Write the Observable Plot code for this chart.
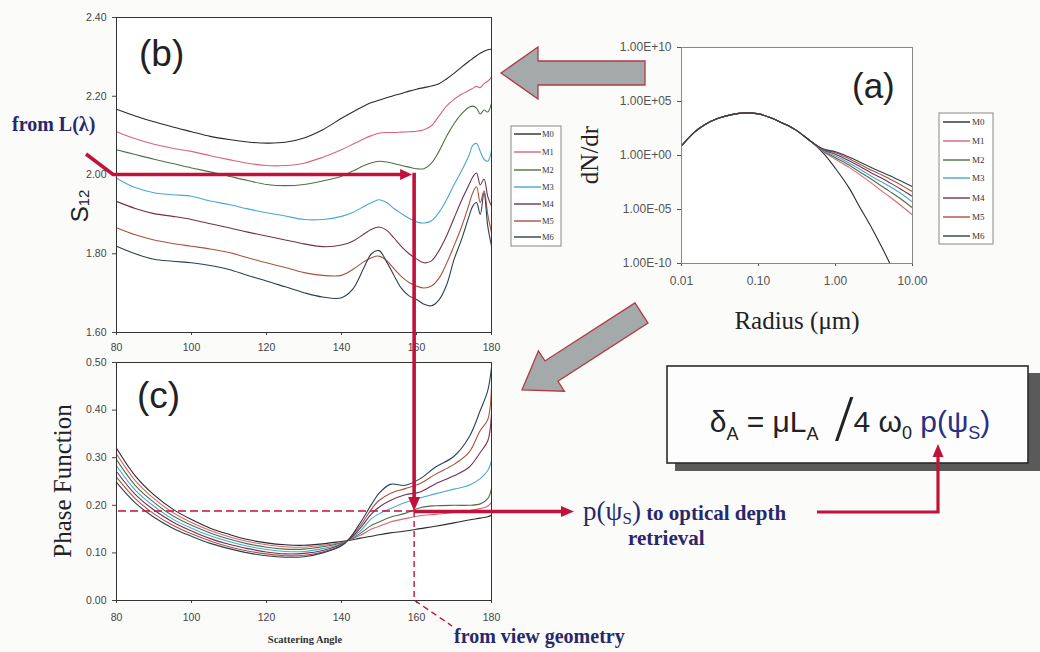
<!DOCTYPE html>
<html><head><meta charset="utf-8">
<script src="https://cdn.jsdelivr.net/npm/d3@7"></script>
<script src="https://cdn.jsdelivr.net/npm/@observablehq/plot@0.6"></script>
<style>
html,body{margin:0;padding:0;background:#fbfbfa;}
#wrap{position:relative;width:1040px;height:652px;overflow:hidden;background:#fbfbfa;}
</style></head><body><div id="wrap"></div>
<script>
// ---------- series ----------
const seriesNames = ["M0","M1","M2","M3","M4","M5","M6"];
const seriesColors = ["#2a2a2a","#d8647c","#4f7242","#4aa6d6","#74304e","#a8543e","#2c3f52"];

// ---------- panel (b): S12 vs scattering angle ----------
const angleB = [80,85,90,95,100,105,110,115,120,125,130,135,140,143,146,148,150,152,154,156,158,160,162,164,166,168,170,172,174,175,176,177,178,179,180];
const s12M0 = [2.167,2.150,2.135,2.122,2.110,2.098,2.090,2.084,2.081,2.083,2.094,2.115,2.144,2.160,2.175,2.184,2.190,2.196,2.202,2.207,2.213,2.218,2.222,2.226,2.232,2.244,2.258,2.274,2.289,2.296,2.303,2.309,2.314,2.318,2.320];
const s12M1 = [2.110,2.092,2.078,2.068,2.060,2.049,2.039,2.030,2.024,2.024,2.030,2.045,2.064,2.078,2.092,2.100,2.106,2.108,2.108,2.109,2.110,2.111,2.115,2.125,2.150,2.175,2.192,2.205,2.215,2.220,2.225,2.222,2.232,2.238,2.248];
const s12M2 = [2.064,2.052,2.040,2.029,2.018,2.008,1.997,1.986,1.976,1.973,1.976,1.985,1.997,2.010,2.024,2.031,2.035,2.033,2.029,2.024,2.020,2.016,2.016,2.030,2.060,2.098,2.130,2.155,2.172,2.175,2.170,2.155,2.165,2.160,2.182];
const s12M3 = [1.992,1.968,1.955,1.950,1.946,1.934,1.925,1.914,1.904,1.896,1.887,1.887,1.895,1.905,1.920,1.930,1.937,1.930,1.915,1.902,1.890,1.881,1.878,1.884,1.905,1.937,1.975,2.010,2.050,2.075,2.080,2.060,2.040,2.035,2.062];
const s12M4 = [1.933,1.915,1.902,1.895,1.887,1.876,1.866,1.855,1.845,1.835,1.825,1.818,1.822,1.832,1.850,1.862,1.868,1.860,1.840,1.818,1.800,1.787,1.777,1.782,1.808,1.845,1.890,1.935,1.975,1.995,2.005,1.975,1.990,1.945,1.921];
const s12M5 = [1.866,1.848,1.835,1.826,1.819,1.812,1.803,1.790,1.777,1.765,1.752,1.745,1.745,1.760,1.780,1.790,1.794,1.783,1.762,1.742,1.727,1.718,1.713,1.718,1.738,1.775,1.820,1.868,1.925,1.955,1.970,1.930,1.960,1.900,1.853];
const s12M6 = [1.819,1.800,1.786,1.781,1.777,1.770,1.760,1.745,1.731,1.716,1.701,1.690,1.688,1.710,1.765,1.800,1.808,1.780,1.745,1.712,1.693,1.684,1.672,1.668,1.683,1.720,1.785,1.836,1.895,1.921,1.930,1.900,1.955,1.870,1.820];
const s12All = [s12M0,s12M1,s12M2,s12M3,s12M4,s12M5,s12M6];

// ---------- panel (c): phase function vs scattering angle ----------
const angleC = [80,85,90,95,100,105,110,115,120,125,130,135,140,142,145,148,150,153,157,161,165,170,174,177,179,180];
const pfM0 = [.320,.262,.222,.192,.170,.152,.139,.128,.121,.117,.116,.119,.124,.126,.131,.135,.138,.142,.146,.151,.156,.163,.169,.173,.176,.179];
const pfM1 = [.308,.252,.214,.185,.164,.147,.134,.124,.117,.113,.112,.116,.122,.127,.137,.150,.156,.165,.172,.178,.181,.185,.189,.193,.198,.206];
const pfM2 = [.296,.242,.206,.178,.158,.142,.129,.119,.112,.108,.108,.113,.121,.127,.141,.158,.165,.175,.183,.195,.199,.200,.200,.203,.214,.235];
const pfM3 = [.283,.232,.198,.171,.152,.136,.124,.114,.107,.103,.103,.109,.119,.128,.146,.172,.182,.193,.206,.216,.224,.234,.242,.256,.273,.294];
const pfM4 = [.271,.223,.190,.165,.146,.130,.118,.109,.102,.098,.099,.105,.118,.128,.152,.182,.196,.210,.222,.228,.245,.262,.280,.311,.335,.393];
const pfM5 = [.259,.214,.182,.158,.140,.125,.113,.104,.098,.094,.095,.102,.116,.129,.157,.192,.210,.225,.235,.246,.265,.286,.311,.357,.380,.448];
const pfM6 = [.248,.205,.175,.152,.135,.120,.109,.100,.094,.091,.092,.100,.115,.129,.163,.202,.225,.244,.242,.256,.280,.303,.343,.399,.441,.490];
const pfAll = [pfM0,pfM1,pfM2,pfM3,pfM4,pfM5,pfM6];

// ---------- panel (a): size distribution dN/dr vs radius ----------
const radiusHead = [0.01,0.015,0.02,0.03,0.05,0.07,0.1,0.15,0.2,0.3];
const dnHead = [7.9,1.6e2,7.1e2,2.8e3,7.1e3,8.9e3,7.1e3,2.8e3,1.1e3,2.5e2];
const radiusTailM0 = [0.5,0.7,1,1.5,2,3,4,5,5.5];
const dnTailM0 = [1.6e1,1.6e0,6.3e-2,1.0e-3,2.5e-5,1.6e-7,3.2e-9,1.3e-10,3.0e-11];
const radiusTail = [0.5,0.7,1,1.5,2,3,4,5,7,10];
const dnTailM1 = [1.6e1,2.2e0,4.5e-1,7.9e-2,2.0e-2,2.5e-3,5.0e-4,1.6e-4,2.5e-5,3.2e-6];
const dnTailM2 = [1.6e1,2.5e0,6.3e-1,1.3e-1,3.5e-2,5.6e-3,1.4e-3,5.0e-4,1.0e-4,1.4e-5];
const dnTailM3 = [1.6e1,2.8e0,8.9e-1,2.0e-1,6.3e-2,1.1e-2,3.5e-3,1.4e-3,3.2e-4,5.0e-5];
const dnTailM4 = [1.6e1,3.2e0,1.3e0,3.2e-1,1.1e-1,2.2e-2,7.9e-3,3.2e-3,7.9e-4,1.6e-4];
const dnTailM5 = [1.6e1,3.5e0,1.8e0,5.0e-1,1.8e-1,4.0e-2,1.6e-2,7.1e-3,2.0e-3,4.5e-4];
const dnTailM6 = [1.6e1,4.0e0,2.2e0,7.1e-1,2.8e-1,7.1e-2,2.8e-2,1.4e-2,4.5e-3,1.3e-3];
const dnTails = [dnTailM1,dnTailM2,dnTailM3,dnTailM4,dnTailM5,dnTailM6];

// ---------- ticks ----------
const angleTicks = [80,100,120,140,160,180];
const angleTickLabels = ["80","100","120","140","160","180"];
const s12Ticks = [1.6,1.8,2.0,2.2,2.4];
const s12TickLabels = ["1.60","1.80","2.00","2.20","2.40"];
const pfTicks = [0,0.1,0.2,0.3,0.4,0.5];
const pfTickLabels = ["0.00","0.10","0.20","0.30","0.40","0.50"];
const radiusTicks = [0.01,0.1,1,10];
const radiusTickLabels = ["0.01","0.10","1.00","10.00"];
const dnTicks = [1e-10,1e-5,1,1e5,1e10];
const dnTickLabels = ["1.00E-10","1.00E-05","1.00E+00","1.00E+05","1.00E+10"];

// ---------- retrieval example ----------
const viewAngle = 159.5;   // scattering angle from view geometry
const s12Obs = 2.0;        // S12 from L(lambda)
const pObs = 0.187;        // resulting phase function value

// ---------- tables ----------
const bRows = seriesNames.flatMap((s,i)=>angleB.map((a,j)=>({series:s, angle:a, value:s12All[i][j]})));
const cRows = seriesNames.flatMap((s,i)=>angleC.map((a,j)=>({series:s, angle:a, value:pfAll[i][j]})));
const aRows = [
  ...radiusHead.concat(radiusTailM0).map((r,j)=>({series:"M0", r, v: dnHead.concat(dnTailM0)[j]})),
  ...seriesNames.slice(1).flatMap((s,i)=>radiusHead.concat(radiusTail).map((r,j)=>({series:s, r, v: dnHead.concat(dnTails[i])[j]})))
];
const fmt = (ticks, labels) => d => labels[ticks.indexOf(d)];

const wrap = document.getElementById("wrap");
const sans = "'Liberation Sans', Arial, sans-serif";
const serif = "'Liberation Serif', 'Times New Roman', serif";
const color = {domain: seriesNames, range: seriesColors};

function place(el, left, top){ el.style.position="absolute"; el.style.left=left+"px"; el.style.top=top+"px"; wrap.appendChild(el); return el; }

const chartB = Plot.plot({
  width: 500, height: 360,
  marginLeft: 116, marginRight: 9, marginTop: 17, marginBottom: 28,
  style: {background:"transparent", fontFamily: sans, fontSize:"10.5px", color:"#444", overflow:"visible"},
  x: {domain:[80,180]}, y: {domain:[1.6,2.4]}, color,
  marks: [
    Plot.frame({stroke:"#333", fill:"#fff"}),
    Plot.axisX(angleTicks, {tickSize:3, tickPadding:8, tickFormat: fmt(angleTicks, angleTickLabels), label:null}),
    Plot.axisY(s12Ticks, {tickSize:4, tickPadding:6, tickFormat: fmt(s12Ticks, s12TickLabels), label:null}),
    Plot.line(bRows, {x:"angle", y:"value", z:"series", stroke:"series", strokeWidth:1.1, curve:"catmull-rom"}),
    Plot.frame({stroke:"#333"})
  ]
});
place(chartB, 0, 0);

const chartC = Plot.plot({
  width: 500, height: 312,
  marginLeft: 116, marginRight: 9, marginTop: 22, marginBottom: 52,
  style: {background:"transparent", fontFamily: sans, fontSize:"10.5px", color:"#444", overflow:"visible"},
  x: {domain:[80,180]}, y: {domain:[0,0.5]}, color,
  marks: [
    Plot.frame({stroke:"#333", fill:"#fff"}),
    Plot.axisX(angleTicks, {tickSize:3, tickPadding:10, tickFormat: fmt(angleTicks, angleTickLabels), label:null}),
    Plot.axisY(pfTicks, {tickSize:4, tickPadding:6, tickFormat: fmt(pfTicks, pfTickLabels), label:null}),
    Plot.line(cRows, {x:"angle", y:"value", z:"series", stroke:"series", strokeWidth:1.1, curve:"catmull-rom"}),
    Plot.frame({stroke:"#333"})
  ]
});
place(chartC, 0, 340);

const chartA = Plot.plot({
  width: 460, height: 280,
  marginLeft: 101, marginRight: 128, marginTop: 17, marginBottom: 47,
  style: {background:"transparent", fontFamily: sans, fontSize:"12px", color:"#555", overflow:"visible"},
  x: {type:"log", domain:[0.01,10]}, y: {type:"log", domain:[1e-10,1e10]}, color,
  marks: [
    Plot.frame({stroke:"#888", fill:"#fff"}),
    Plot.axisX(radiusTicks, {tickSize:3, tickPadding:10, tickFormat: fmt(radiusTicks, radiusTickLabels), label:null}),
    Plot.axisY(dnTicks, {tickSize:4, tickPadding:6, tickFormat: fmt(dnTicks, dnTickLabels), label:null}),
    Plot.line(aRows, {x:"r", y:"v", z:"series", stroke:"series", strokeWidth:1.1, curve:"catmull-rom", clip:true}),
    Plot.frame({stroke:"#888"})
  ]
});
place(chartA, 580, 30);

// ---------- overlay annotations ----------
const ov = d3.select(wrap).append("svg").attr("width",1040).attr("height",652)
  .style("position","absolute").style("left","0px").style("top","0px").style("pointer-events","none");

const bx = v => chartB.scale("x").apply(v), by = v => chartB.scale("y").apply(v);
const cx = v => chartC.scale("x").apply(v), cy = v => 340 + chartC.scale("y").apply(v);

function blockArrow(tip, tail, shaftW, headW, headL){
  const dx = tip[0]-tail[0], dy = tip[1]-tail[1], L = Math.hypot(dx,dy);
  const ux = dx/L, uy = dy/L, px = -uy, py = ux;
  const bX = tip[0]-ux*headL, bY = tip[1]-uy*headL;
  return [[tail[0]+px*shaftW/2, tail[1]+py*shaftW/2],[bX+px*shaftW/2, bY+py*shaftW/2],[bX+px*headW/2, bY+py*headW/2],tip,
    [bX-px*headW/2, bY-py*headW/2],[bX-px*shaftW/2, bY-py*shaftW/2],[tail[0]-px*shaftW/2, tail[1]-py*shaftW/2]];
}
const grayArrow = pts => ov.append("polygon").attr("points", pts.map(p=>p.join(",")).join(" "))
  .attr("fill","#a4a9a9").attr("stroke","#b33a48").attr("stroke-width",1.3).attr("stroke-linejoin","miter");
grayArrow(blockArrow([501,73],[645,73],24,52,37));
grayArrow(blockArrow([522,390],[641.5,313],24,48,35));

// formula box (drawn before the arrow that points into it)
ov.append("rect").attr("x",675).attr("y",373).attr("width",365).attr("height",98).attr("fill","#5a5a5a");
ov.append("rect").attr("x",667).attr("y",366).attr("width",361).attr("height",97).attr("fill","#fdfdfd").attr("stroke","#2a2a2a").attr("stroke-width",1.6);
const f = ov.append("text").attr("x",850).attr("y",432).attr("text-anchor","middle")
  .style("font-family",sans).style("font-size","30px").attr("fill","#222");
f.append("tspan").text("δ");
f.append("tspan").attr("dy",8).style("font-size","18px").text("A");
f.append("tspan").attr("dy",-8).text(" = μL");
f.append("tspan").attr("dy",8).style("font-size","18px").text("A");
f.append("tspan").attr("dy",0).style("font-size","66px").style("font-family",serif).text(" /");
f.append("tspan").attr("dy",-8).text("4 ω");
f.append("tspan").attr("dy",7).style("font-size","18px").text("0");
f.append("tspan").attr("dy",-7).attr("fill","#2b3080").text(" p(ψ");
f.append("tspan").attr("dy",7).attr("fill","#2b3080").style("font-size","18px").text("S");
f.append("tspan").attr("dy",-7).attr("fill","#2b3080").text(")");

const red = "#c2123c";
function head(tip, dir, w, l){
  const [ux,uy] = dir, px=-uy, py=ux;
  const b = [tip[0]-ux*l, tip[1]-uy*l];
  ov.append("polygon").attr("points",[tip,[b[0]+px*w/2,b[1]+py*w/2],[b[0]-px*w/2,b[1]-py*w/2]].map(p=>p.join(",")).join(" ")).attr("fill",red);
}
const line = (pts, w, dash) => ov.append("polyline").attr("points", pts.map(p=>p.join(",")).join(" "))
  .attr("fill","none").attr("stroke",red).attr("stroke-width",w).attr("stroke-dasharray",dash||null).attr("stroke-linejoin","miter");

const vx = bx(viewAngle), hy = by(s12Obs), py0 = cy(pObs);
// dashed guides in (c)
line([[cx(80)+2, py0],[vx, py0]], 1.6, "8,4");
line([[vx, py0],[vx, cy(0)],[452,626]], 1.4, "6,4");
// from L(lambda)
line([[86,154],[bx(80)-3,hy],[vx-12,hy]], 3.6);
head([vx-2,hy],[1,0],11,12);
// down to phase function
line([[vx,hy-1.8],[vx,py0-12]], 3.6);
head([vx,py0],[0,1],12,14);
line([[vx,py0+0.5],[562,py0+0.5]], 3.6);
head([574,py0+0.5],[1,0],11,13);
// to formula
line([[817,512],[938,512],[938,456]], 3.2);
head([938,444],[0,-1],11,13);

const navy = "#28286a";
const txt = (x,y,s,size,opts={}) => ov.append("text").attr("x",x).attr("y",y).text(s)
  .style("font-family",opts.family||serif).style("font-size",size+"px").style("font-weight",opts.weight||"normal")
  .attr("fill",opts.fill||"#222").attr("text-anchor",opts.anchor||"start").attr("transform",opts.transform||null);

txt(12,131,"from L(λ)",20,{weight:"bold",fill:navy});
txt(454,643,"from view geometry",20,{weight:"bold",fill:navy});
const p = ov.append("text").attr("x",583).attr("y",520).attr("fill",navy).style("font-family",serif);
p.append("tspan").style("font-size","27px").text("p(ψ");
p.append("tspan").style("font-size","17px").attr("dy",4).text("S");
p.append("tspan").style("font-size","27px").attr("dy",-4).text(")");
p.append("tspan").style("font-size","21px").style("font-weight","bold").text(" to optical depth");
txt(628,545,"retrieval",21,{weight:"bold",fill:navy});

// panel labels
txt(139,66,"(b)",37,{family:sans});
txt(137,408,"(c)",37,{family:sans});
txt(852,98,"(a)",35,{family:sans});

// axis titles
const s = ov.append("text").attr("transform","translate(88,206) rotate(-90)").attr("text-anchor","middle")
  .style("font-family",sans).attr("fill","#222");
s.append("tspan").style("font-size","24px").text("S");
s.append("tspan").style("font-size","15px").attr("dy",1).text("12");
txt(0,0,"Phase Function",25,{anchor:"middle",transform:"translate(71,481) rotate(-90)"});
txt(0,0,"dN/dr",25,{anchor:"middle",transform:"translate(598,155) rotate(-90)"});
txt(797,329,"Radius (μm)",25,{anchor:"middle"});
txt(305,643,"Scattering Angle",10.5,{anchor:"middle",weight:"bold",fill:"#333"});

// legends
function legend(x0,y0,w,h,rowY,lineX1,lineX2,textX,fs){
  ov.append("rect").attr("x",x0).attr("y",y0).attr("width",w).attr("height",h).attr("fill","#fff").attr("stroke","#888").attr("stroke-width",1);
  seriesNames.forEach((n,i)=>{
    ov.append("line").attr("x1",lineX1).attr("x2",lineX2).attr("y1",rowY[i]).attr("y2",rowY[i]).attr("stroke",seriesColors[i]).attr("stroke-width",1.4);
    txt(textX,rowY[i]+3,n,fs,{fill:"#333"});
  });
}
legend(511,126,50,120,[134,152,170,187,204,221,237],514,541,542,8.5);
legend(939,113,54,131,[122,141,160,178,198,217,236],943,970,972,9);
</script></body></html>
